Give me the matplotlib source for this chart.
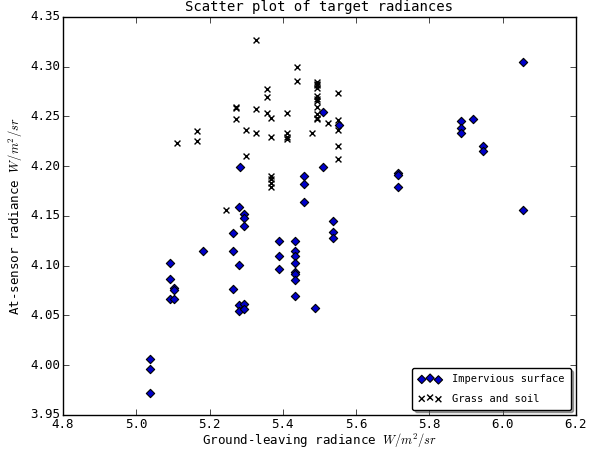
import numpy as np
import matplotlib
matplotlib.use('Agg')
import matplotlib.pyplot as plt

# impervious surface (ground-leaving, at-sensor)
imp_x = [5.038, 5.038, 5.038,
         5.091, 5.091, 5.091,
         5.104, 5.104, 5.104,
         5.183,
         5.263, 5.263, 5.263,
         5.280, 5.280, 5.282, 5.280, 5.280,
         5.293, 5.293, 5.293, 5.293, 5.293,
         5.389, 5.389, 5.389,
         5.432, 5.432, 5.432, 5.432, 5.432, 5.432, 5.432, 5.432,
         5.458, 5.458, 5.458,
         5.487,
         5.509, 5.509, 5.554,
         5.538, 5.538, 5.538,
         5.713, 5.713, 5.713,
         5.885, 5.885, 5.885, 5.918,
         5.946, 5.946,
         6.055, 6.055]
imp_y = [4.006, 3.996, 3.972,
         4.103, 4.087, 4.067,
         4.078, 4.076, 4.067,
         4.115,
         4.133, 4.115, 4.077,
         4.159, 4.101, 4.199, 4.060, 4.054,
         4.152, 4.148, 4.140, 4.062, 4.056,
         4.125, 4.110, 4.097,
         4.125, 4.115, 4.110, 4.103, 4.094, 4.092, 4.086, 4.070,
         4.190, 4.182, 4.164,
         4.057,
         4.254, 4.199, 4.241,
         4.145, 4.134, 4.128,
         4.193, 4.191, 4.179,
         4.245, 4.238, 4.233, 4.247,
         4.220, 4.215,
         4.305, 4.156]

# grass and soil
grs_x = [5.111,
         5.165, 5.165,
         5.245,
         5.273, 5.273, 5.273,
         5.300, 5.300,
         5.327, 5.327, 5.327,
         5.356, 5.356, 5.356,
         5.369, 5.369, 5.369, 5.369, 5.369, 5.369,
         5.411, 5.411, 5.411, 5.411,
         5.438, 5.438,
         5.479,
         5.493, 5.493, 5.493, 5.493, 5.493, 5.493, 5.493, 5.493, 5.493, 5.493, 5.493,
         5.522,
         5.550, 5.550, 5.550, 5.550, 5.550]
grs_y = [4.223,
         4.235, 4.225,
         4.156,
         4.259, 4.258, 4.247,
         4.236, 4.210,
         4.327, 4.257, 4.233,
         4.277, 4.269, 4.253,
         4.248, 4.229, 4.190, 4.187, 4.183, 4.179,
         4.253, 4.233, 4.229, 4.227,
         4.300, 4.286,
         4.233,
         4.285, 4.283, 4.281, 4.278, 4.270, 4.267, 4.265, 4.259, 4.252, 4.248, 4.247,
         4.243,
         4.273, 4.246, 4.236, 4.220, 4.207]

plt.style.use('classic')
plt.rcParams['font.family'] = 'monospace'
plt.rcParams['font.monospace'] = ['DejaVu Sans Mono']
plt.rcParams['mathtext.fontset'] = 'cm'

fig = plt.figure(figsize=(6.02, 4.53), dpi=100, facecolor='white')
ax = fig.add_axes([0.1047, 0.0839, 0.852, 0.879])

ax.scatter(imp_x, imp_y, marker='D', s=18, c='#0000cc', edgecolors='black',
           linewidths=0.8, label='Impervious surface')
ax.scatter(grs_x, grs_y, marker='x', s=18, c='black', linewidths=1.0,
           label='Grass and soil')

ax.set_xlim(4.8, 6.2)
ax.set_ylim(3.95, 4.35)
ax.set_xticks(np.arange(4.8, 6.21, 0.2))
ax.set_yticks(np.arange(3.95, 4.351, 0.05))
ax.tick_params(labelsize=9, pad=2)

ax.set_title('Scatter plot of target radiances', fontsize=10, pad=4)
ax.set_xlabel('Ground-leaving radiance $W/m^2/sr$', fontsize=9, labelpad=1)
ax.set_ylabel('At-sensor radiance $W/m^2/sr$', fontsize=9, labelpad=4)

ax.legend(loc='lower right', scatterpoints=3, fontsize=7.5, fancybox=True,
          shadow=True, labelspacing=0.9, borderpad=0.6, handletextpad=1.0,
          handlelength=2.2, scatteryoffsets=[0.375, 0.55, 0.3125])

fig.savefig('out.png', dpi=100, facecolor='white')
